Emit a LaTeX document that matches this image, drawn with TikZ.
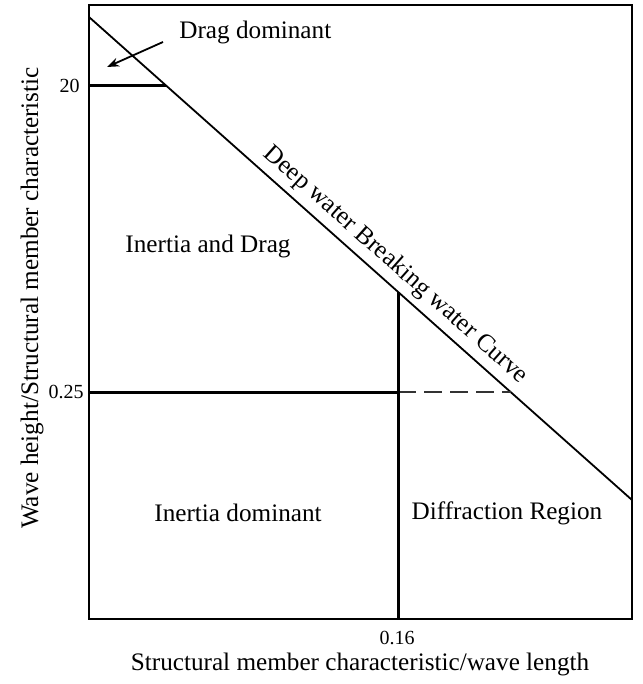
\documentclass[tikz,border=0pt]{standalone}
\usepackage{fontspec}
\setmainfont{Liberation Serif}
\usetikzlibrary{arrows.meta}

\begin{document}
\begin{tikzpicture}[
    x=0.5pt, y=-0.5pt,
    every node/.style={font=\fontsize{12.6}{15}\selectfont, inner sep=2pt},
    frameline/.style={line width=0.9pt},
    boundline/.style={line width=1.5pt},
    ticklabel/.style={font=\fontsize{10}{12}\selectfont},
]

\useasboundingbox (0,0) rectangle (642,684);

% ----------------------------------------------------------------------
% Plot frame (pixel units, y grows downwards)
% ----------------------------------------------------------------------
\coordinate (tl) at (89,5);
\coordinate (br) at (632,619);
\draw[frameline] (tl) rectangle (br);

% Deep water breaking curve
\coordinate (bc0) at (89,17);
\coordinate (bc1) at (632,500);
\draw[frameline] (bc0) -- (bc1)
    node[pos=0.542, sloped, above=1pt] {Deep water Breaking water Curve};

% ----------------------------------------------------------------------
% Region boundaries
% ----------------------------------------------------------------------
\coordinate (dg0) at (89,86);
\coordinate (dg1) at (166,86);
\draw[boundline] (dg0) -- (dg1);

\coordinate (in0) at (89,392);
\coordinate (in1) at (398,392);
\coordinate (in2) at (511,392);
\draw[boundline] (in0) -- (in1);
\draw[line width=0.8pt, black!80, dash pattern=on 9pt off 4pt] (in1) -- (in2);

\coordinate (df0) at (398,292);
\coordinate (df1) at (398,619);
\draw[boundline] (df0) -- (df1);

% ----------------------------------------------------------------------
% Region labels
% ----------------------------------------------------------------------
\node[anchor=west] (dglab) at (175,32) {Drag dominant};
\coordinate (arrS) at (163,42);
\coordinate (arrE) at (107,67);
\draw[frameline, -{Stealth[length=6pt, width=4.5pt]}] (arrS) -- (arrE);

\node (idlab) at (208,246) {Inertia and Drag};
\node (inlab) at (238,513) {Inertia dominant};
\node (dflab) at (507,513) {Diffraction Region};

% ----------------------------------------------------------------------
% Ticks and axis titles
% ----------------------------------------------------------------------
\node[ticklabel, anchor=east] (t20)  at (84,86)  {20};
\node[ticklabel, anchor=east] (t025) at (88,392) {0.25};
\node[ticklabel] (t016) at (397,638) {0.16};

\node (xlab) at (360,664) {Structural member characteristic/wave length};
\node[rotate=90] (ylab) at (32,298) {Wave height/Structural member characteristic};

\end{tikzpicture}
\end{document}
